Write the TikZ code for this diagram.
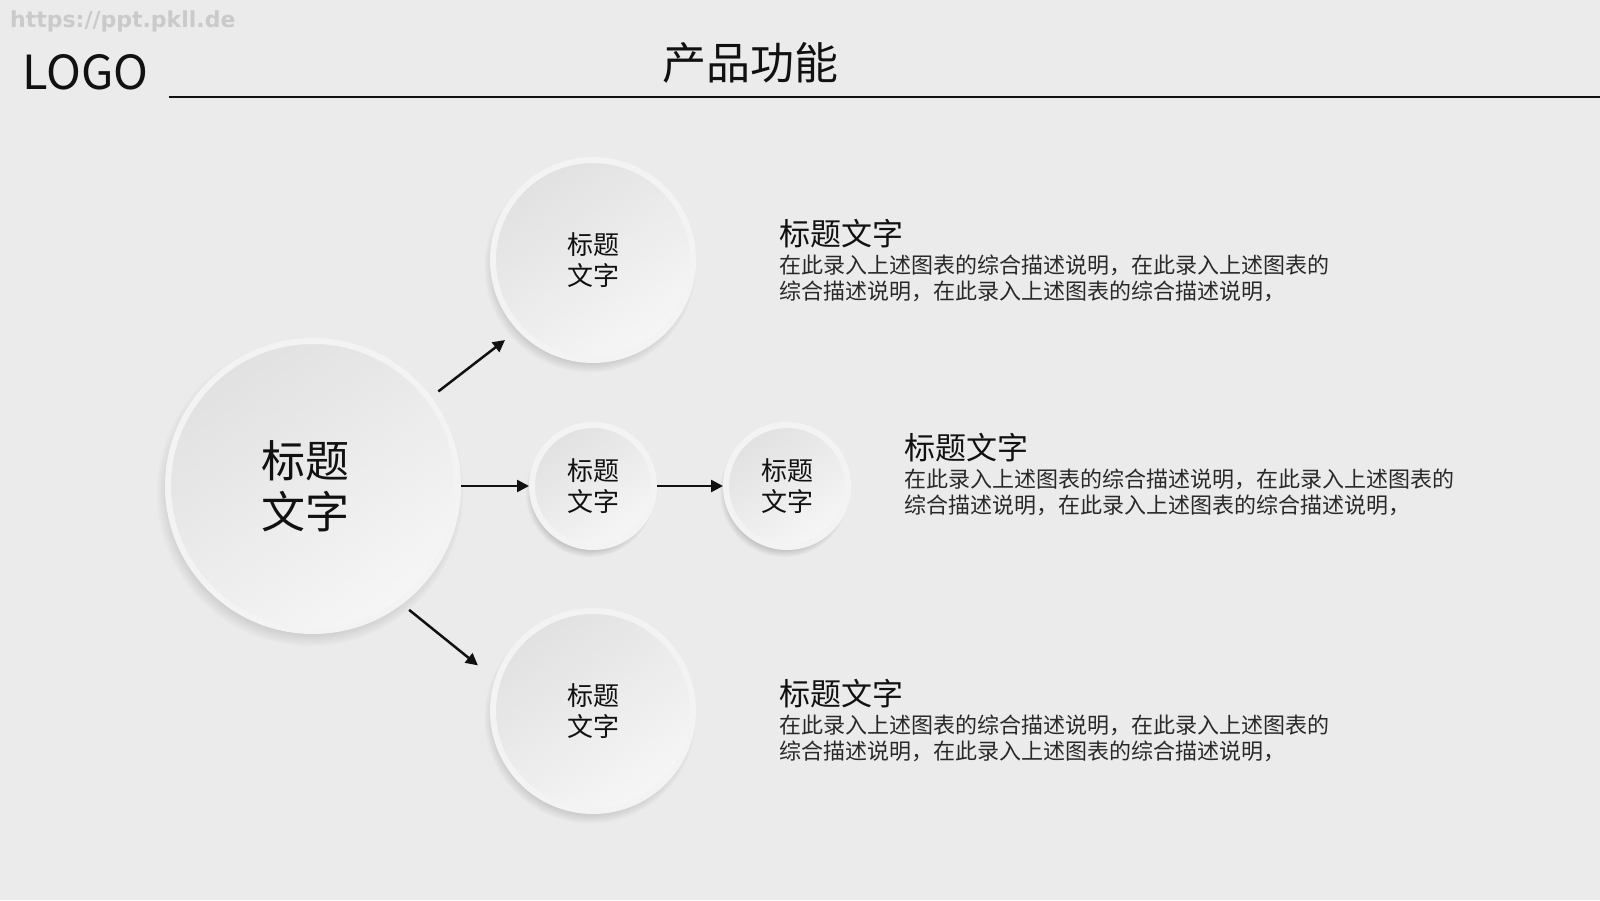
\documentclass[tikz,border=0pt]{standalone}
\usepackage{fontspec}
\setmainfont{Noto Sans CJK SC}
\newfontfamily\markfont{DejaVu Sans}
\usepackage{tikz}
\usetikzlibrary{arrows.meta,positioning,shadows}
\definecolor{paper}{HTML}{EBEBEB}
\definecolor{rim}{HTML}{F3F3F3}
\definecolor{faceshade}{HTML}{E1E1E1}
\definecolor{facelight}{HTML}{F6F6F6}
\definecolor{ink}{HTML}{111111}
\definecolor{markgray}{HTML}{CACACA}
\tikzset{
    plate/.style={circle,draw=rim,line width=6pt,inner sep=0pt,
      align=center,text=ink,top color=faceshade,bottom color=facelight,
      shading angle=35,
      circular drop shadow={shadow xshift=-3pt,shadow yshift=-6pt,
        shadow scale=1.06,fill=black!50,opacity=0.45}},
    bigplate/.style={plate,minimum size=290pt,
      font=\fontsize{44}{51}\selectfont},
    midplate/.style={plate,minimum size=200pt,
      font=\fontsize{26}{31}\selectfont},
    smallplate/.style={plate,minimum size=122pt,
      font=\fontsize{26}{31}\selectfont},
    flowarrow/.style={-{Triangle[length=12pt,width=12pt]},draw=ink,
      line width=2.5pt},
    infohead/.style={anchor=west,inner sep=0pt,text=ink,
      font=\fontsize{31}{36}\selectfont},
    infobody/.style={inner sep=0pt,align=left,text=ink!90,
      font=\fontsize{22}{26.5}\selectfont}
}
\begin{document}
\begin{tikzpicture}[x=1pt,y=-1pt]
  \fill[paper] (0,0) rectangle (1600,900);
  \useasboundingbox (0,0) rectangle (1600,900);
  % header
  \node[anchor=west,inner sep=0pt,text=markgray,
    font=\markfont\bfseries\fontsize{22}{26}\selectfont] (mark) at (10,21) {https://ppt.pkll.de};
  \node[anchor=west,inner sep=0pt,text=ink,
    font=\fontsize{47}{56}\selectfont] (logo) at (22,72) {LOGO};
  \node[inner sep=0pt,text=ink,font=\fontsize{44}{52}\selectfont] (title) at (750,63) {产品功能};
  \coordinate (ruleL) at (169,97);
  \coordinate (ruleR) at (1600,97);
  \draw[ink,line width=1.6pt] (ruleL) -- (ruleR);
  % circles
  \node[bigplate] (hub) at (313,486) {标题\hspace*{16pt}\\文字\hspace*{16pt}};
  \node[midplate] (up) at (593,260) {标题\\文字};
  \node[smallplate] (mid) at (593,486) {标题\\文字};
  \node[smallplate] (far) at (787,486) {标题\\文字};
  \node[midplate] (low) at (593,711) {标题\\文字};
  % arrows
  \draw[flowarrow,shorten <=9pt,shorten >=16pt] (hub.37) -- (up.223);
  \draw[flowarrow] (hub.east) -- (mid.west);
  \draw[flowarrow] (mid.east) -- (far.west);
  \draw[flowarrow,shorten <=9pt,shorten >=22pt] (hub.-53) -- (low.162);
  % descriptions
  \foreach \n/\x/\y in {a/779/234,b/904/448,c/779/694} {
    \node[infohead] (head\n) at (\x,\y) {标题文字};
    \node[infobody,below=6pt of head\n.south west,anchor=north west] (desc\n)
      {在此录入上述图表的综合描述说明，在此录入上述图表的\\综合描述说明，在此录入上述图表的综合描述说明，};
  }
\end{tikzpicture}
\end{document}
